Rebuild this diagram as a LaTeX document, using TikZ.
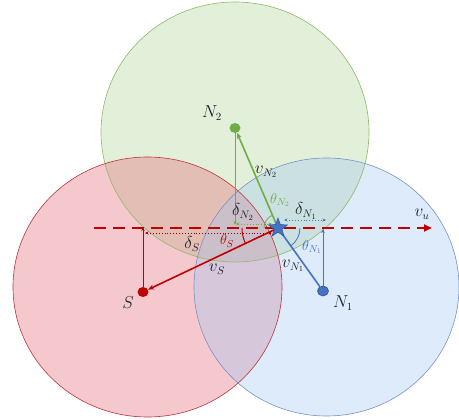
\documentclass[tikz,border=0pt]{standalone}
\usetikzlibrary{shapes.geometric,arrows.meta}
\definecolor{gfill}{RGB}{172,212,146}
\definecolor{gline}{RGB}{112,173,71}
\definecolor{grim}{RGB}{140,185,105}
\definecolor{rfill}{RGB}{226,98,112}
\definecolor{rline}{RGB}{192,0,0}
\definecolor{rrim}{RGB}{190,50,60}
\definecolor{bfill}{RGB}{161,198,241}
\definecolor{bline}{RGB}{68,114,196}
\definecolor{brim}{RGB}{120,145,200}
\definecolor{txt}{RGB}{30,30,40}
\begin{document}
\begin{tikzpicture}[x=1pt,y=1pt,
  zone/.style={fill opacity=0.35},
  rim/.style={line width=0.6pt},
  dot/.style={ellipse,minimum width=11pt,minimum height=10pt,inner sep=0pt},
  lbl/.style={text=txt,font=\fontsize{16}{18}\selectfont,inner sep=0pt},
  slbl/.style={font=\fontsize{14}{16}\selectfont,inner sep=0pt},
  vec/.style={line width=1.6pt,-{Stealth[length=6pt,width=5pt]}},
  foot/.style={line width=0.9pt,-{Stealth[length=4pt,width=3.5pt]}},
  gap/.style={dotted,line width=0.9pt,{Stealth[length=3.5pt,width=3pt]}-{Stealth[length=3.5pt,width=3pt]}}
]
\useasboundingbox (0,0) rectangle (459,420);
% zones
\fill[gfill,zone] (235,288) ellipse [x radius=134,y radius=130];
\fill[rfill,zone] (147.5,133) ellipse [x radius=134.5,y radius=130];
\fill[bfill,zone] (326.5,133) ellipse [x radius=132.5,y radius=129];
\draw[grim,rim] (235,288) ellipse [x radius=134,y radius=130];
\draw[rrim,rim] (147.5,133) ellipse [x radius=134.5,y radius=130];
\draw[brim,rim] (326.5,133) ellipse [x radius=132.5,y radius=129];
% nodes
\node[dot,fill=gline] (N2) at (235,292) {};
\node[dot,fill=rline] (S) at (143,128) {};
\node[dot,fill=bline,draw=bline!70!black,line width=0.6pt] (N1) at (323,129) {};
\coordinate (L) at (94,192);
\coordinate (R) at (432,192);
\coordinate (U) at (278,192);
\coordinate (fN2) at (235,195);
\coordinate (fS) at (143,193);
\coordinate (fN1) at (323,191);
% angle arcs
\draw[rline,line width=1pt] (U) ++(180:36) arc[start angle=180,end angle=205,radius=36];
\draw[gline,line width=0.8pt] (U) ++(113:14) arc[start angle=113,end angle=180,radius=14];
\draw[bline,line width=0.8pt] (U) ++(0:22) arc[start angle=0,end angle=-54,radius=22];
% reference line
\draw[rline,line width=2.8pt,dash pattern=on 12pt off 7pt,-{Triangle[length=8pt,width=7pt]}] (L) -- (R);
% feet
\draw[gline,foot] (N2) -- (fN2);
\draw[rline,foot] (S) -- (fS);
\draw[bline,foot] (N1) -- (fN1);
% distance gaps
\draw[gline,gap] (236,196) -- (272,196);
\draw[bline,gap] (284,200) -- (326,200);
\draw[rline!80!black,gap] (145,187) -- (272,187);
% velocity vectors
\draw[gline,vec] (U) -- (N2);
\draw[rline,vec] (U) -- (S);
\draw[bline,line width=1.6pt] (U) -- (N1);
\node[star,star points=5,star point ratio=2.4,minimum size=20pt,inner sep=0pt,fill=bline,draw=bline!70!black,line width=0.5pt] (star) at (U) {};
% labels
\node[lbl] at (212,307) {$N_2$};
\node[lbl] at (128,117) {$S$};
\node[lbl] at (343,117) {$N_1$};
\node[lbl] at (422,206) {$v_u$};
\node[lbl] at (266,248) {$v_{N_2}$};
\node[lbl] at (293,154) {$v_{N_1}$};
\node[lbl] at (217,151) {$v_S$};
\node[lbl] at (243,208) {$\delta_{N_2}$};
\node[lbl] at (306,209) {$\delta_{N_1}$};
\node[lbl] at (192,176) {$\delta_S$};
\node[slbl,text=gline] at (280,220) {$\theta_{N_2}$};
\node[slbl,text=bline] at (312,173) {$\theta_{N_1}$};
\node[slbl,text=rline] at (227,179) {$\theta_S$};
\end{tikzpicture}
\end{document}
